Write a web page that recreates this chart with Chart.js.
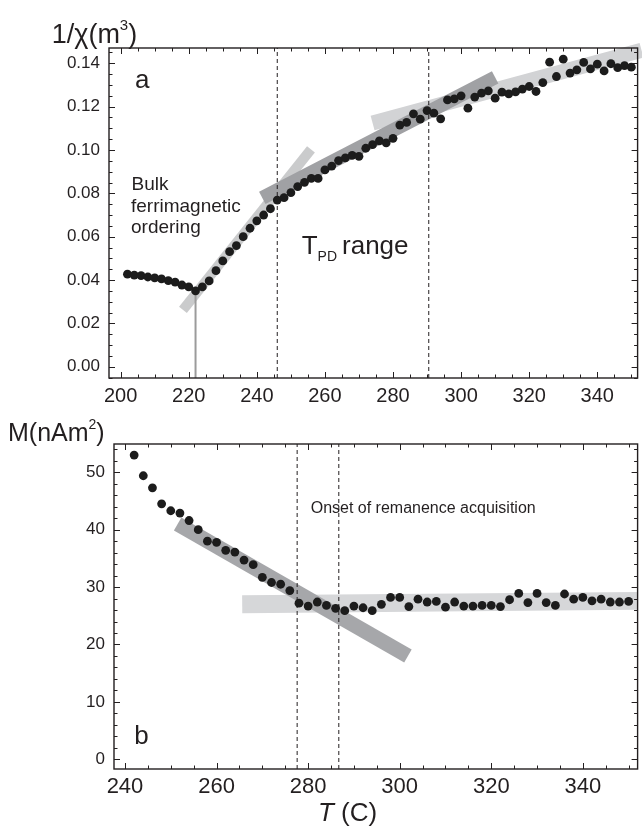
<!DOCTYPE html>
<html>
<head>
<meta charset="utf-8">
<script src="https://cdn.jsdelivr.net/npm/chart.js@4.4.1/dist/chart.umd.min.js"></script>
<style>
  html, body { margin: 0; padding: 0; background: #fff; }
  body { width: 642px; height: 827px; position: relative; overflow: hidden; }
  canvas { position: absolute; left: 0; }
  #chartA { top: 0; }
  #chartB { top: 415px; }
</style>
</head>
<body>
<canvas id="chartA" width="642" height="415"></canvas>
<canvas id="chartB" width="642" height="412"></canvas>
<script>
// ---------- Panel a: inverse susceptibility 1/chi versus temperature ----------
const tempA = [202, 204, 206, 208, 210, 212, 214, 216, 218, 220, 222, 224, 226, 228, 230,
  232, 234, 236, 238, 240, 242, 244, 246, 248, 250, 252, 254, 256, 258, 260,
  262, 264, 266, 268, 270, 272, 274, 276, 278, 280, 282, 284, 286, 288, 290,
  292, 294, 296, 298, 300, 302, 304, 306, 308, 310, 312, 314, 316, 318, 320,
  322, 324, 326, 328, 330, 332, 334, 336, 338, 340, 342, 344, 346, 348, 350];
const invChi = [0.0427, 0.0423, 0.0420, 0.0414, 0.0410, 0.0405, 0.0397, 0.0390, 0.0377, 0.0368,
  0.0350, 0.0368, 0.0396, 0.0443, 0.0488, 0.0531, 0.0559, 0.0600, 0.0639, 0.0673,
  0.0700, 0.0729, 0.0769, 0.0780, 0.0803, 0.0831, 0.0851, 0.0869, 0.0869, 0.0908,
  0.0926, 0.0951, 0.0964, 0.0975, 0.0971, 0.1008, 0.1025, 0.1042, 0.1033, 0.1054,
  0.1115, 0.1127, 0.1167, 0.1142, 0.1182, 0.1170, 0.1144, 0.1231, 0.1236, 0.1250,
  0.1193, 0.1244, 0.1262, 0.1273, 0.1239, 0.1267, 0.1259, 0.1268, 0.1281, 0.1293,
  0.1270, 0.1311, 0.1405, 0.1339, 0.1419, 0.1355, 0.1370, 0.1404, 0.1374, 0.1396,
  0.1365, 0.1398, 0.1380, 0.1389, 0.1382];

// straight-line fits drawn as broad grey bands
const fitSteepT = [218.3, 255.9];
const fitSteepV = [0.0262, 0.1003];
const fitMidT = [241.6, 310.0];
const fitMidV = [0.0779, 0.1335];
const fitHighT = [274.0, 353.0];
const fitHighV = [0.1125, 0.1460];

const curieT = 222;            // bulk ordering temperature (grey marker)
const tpdRangeA = [246, 290.5]; // dashed bounds of the T_PD range

const tempTicksA = [200, 220, 240, 260, 280, 300, 320, 340];
const invChiTicks = [0.00, 0.02, 0.04, 0.06, 0.08, 0.10, 0.12, 0.14];
const xLimA = [196.58, 351.84];
const yLimA = [-0.0052, 0.14706];

// ---------- Panel b: magnetisation versus temperature ----------
const tempB = [242, 244, 246, 248, 250, 252, 254, 256, 258, 260, 262, 264, 266, 268, 270,
  272, 274, 276, 278, 280, 282, 284, 286, 288, 290, 292, 294, 296, 298, 300,
  302, 304, 306, 308, 310, 312, 314, 316, 318, 320, 322, 324, 326, 328, 330,
  332, 334, 336, 338, 340, 342, 344, 346, 348, 350];
const momentB = [53.0, 49.4, 47.3, 44.5, 43.3, 42.9, 41.6, 40.0, 38.0, 37.8,
  36.4, 36.1, 34.7, 33.9, 31.7, 30.8, 30.5, 29.4, 27.2, 26.7,
  27.4, 26.8, 26.3, 25.9, 26.7, 26.4, 25.9, 27.0, 28.2, 28.2,
  26.6, 27.9, 27.4, 27.5, 26.5, 27.4, 26.7, 26.7, 26.8, 26.8,
  26.6, 27.8, 28.9, 27.3, 28.9, 27.3, 26.8, 28.8, 27.9, 28.2,
  27.6, 27.9, 27.4, 27.4, 27.5];

const fitDropT = [251.5, 301.8];
const fitDropM = [41.0, 18.0];
const fitFlatT = [265.6, 352.0];
const fitFlatM = [27.0, 27.6];

const onsetRangeB = [277.6, 286.7];

const tempTicksB = [240, 260, 280, 300, 320, 340];
const momentTicks = [0, 10, 20, 30, 40, 50];
const xLimB = [237.6, 351.96];
const yLimB = [-1.69, 54.93];

// ---------- shared helpers ----------
const INK = '#231f20';
const FONT = "'Liberation Sans', Arial, Helvetica, sans-serif";
Chart.defaults.font.family = FONT;
Chart.defaults.color = INK;

const pairs = (xs, ys) => xs.map((v, i) => ({ x: v, y: ys[i] }));

function band(xs, ys, color, width, order, clip) {
  return {
    data: pairs(xs, ys), showLine: true, pointRadius: 0, borderColor: color,
    borderWidth: width, borderCapStyle: 'butt', fill: false, order: order,
    clip: clip === false ? false : undefined
  };
}
function vline(t, lim, color, width, dash, order) {
  return {
    data: [{ x: t, y: lim[0] }, { x: t, y: lim[1] }], showLine: true, pointRadius: 0,
    borderColor: color, borderWidth: width, borderDash: dash || [], fill: false, order: order
  };
}

// Closed frame with inward major/minor ticks on all four sides
function frameTicks(xMajor, xMinor, yMajor, yMinor) {
  return {
    id: 'frameTicks',
    afterDatasetsDraw(chart) {
      const { ctx, chartArea: a, scales: { x, y } } = chart;
      ctx.save();
      ctx.strokeStyle = INK;
      ctx.lineWidth = 1;
      ctx.beginPath();
      const isMajor = (v, step) => Math.abs(v / step - Math.round(v / step)) < 1e-6;
      let k0 = Math.ceil(x.min / xMinor - 1e-9);
      for (let k = k0; k * xMinor <= x.max + 1e-9; k++) {
        const v = k * xMinor;
        const px = Math.round(x.getPixelForValue(v)) + 0.5;
        const len = isMajor(v, xMajor) ? 6 : 3.5;
        ctx.moveTo(px, a.bottom); ctx.lineTo(px, a.bottom - len);
        ctx.moveTo(px, a.top); ctx.lineTo(px, a.top + len);
      }
      k0 = Math.ceil(y.min / yMinor - 1e-9);
      for (let k = k0; k * yMinor <= y.max + 1e-9; k++) {
        const v = k * yMinor;
        const py = Math.round(y.getPixelForValue(v)) + 0.5;
        const len = isMajor(v, yMajor) ? 6 : 3.5;
        ctx.moveTo(a.left, py); ctx.lineTo(a.left + len, py);
        ctx.moveTo(a.right, py); ctx.lineTo(a.right - len, py);
      }
      ctx.stroke();
      ctx.lineWidth = 1.4;
      ctx.strokeRect(a.left, a.top, a.right - a.left, a.bottom - a.top);
      ctx.restore();
    }
  };
}

// Text pieces drawn as runs, so super/subscripts sit next to their base text
function textLayer(pieces) {
  return {
    id: 'textLayer',
    afterDraw(chart) {
      const ctx = chart.ctx;
      ctx.save();
      ctx.fillStyle = INK;
      ctx.textBaseline = 'alphabetic';
      ctx.textAlign = 'left';
      pieces.forEach(p => {
        let x = p.x;
        p.runs.forEach(r => {
          ctx.font = (r.italic ? 'italic ' : '') + r.size + 'px ' + FONT;
          ctx.fillText(r.text, x, p.y - (r.rise || 0));
          x += ctx.measureText(r.text).width + (r.gap || 0);
        });
      });
      ctx.restore();
    }
  };
}

function scaleConfig(lim, ticks, fixed, isX, fontSize, padding, fmt) {
  return {
    type: 'linear',
    position: isX ? 'bottom' : 'left',
    min: lim[0], max: lim[1],
    afterFit: s => { if (isX) s.height = fixed; else s.width = fixed; },
    afterBuildTicks: s => { s.ticks = ticks.map(v => ({ value: v })); },
    grid: { display: false, drawTicks: false },
    border: { display: false },
    ticks: {
      color: INK, font: { size: fontSize }, padding: padding,
      autoSkip: false, maxRotation: 0, minRotation: 0,
      callback: fmt
    }
  };
}

const baseOptions = {
  responsive: false, animation: false, devicePixelRatio: 1, events: [],
  plugins: { legend: { display: false }, tooltip: { enabled: false } }
};

// ---------- chart a ----------
new Chart(document.getElementById('chartA'), {
  type: 'scatter',
  data: {
    datasets: [
      { data: pairs(tempA, invChi), backgroundColor: '#1c1c1c', borderWidth: 0, pointRadius: 4.4, order: 0 },
      vline(tpdRangeA[0], yLimA, INK, 1, [4, 3], 1),
      vline(tpdRangeA[1], yLimA, INK, 1, [4, 3], 1),
      vline(curieT, [yLimA[0], invChi[tempA.indexOf(curieT)]], '#9b9b9b', 2, [], 1),
      band(fitMidT, fitMidV, '#a0a1a4', 14, 2),
      band(fitSteepT, fitSteepV, '#cacbcc', 10, 3),
      band(fitHighT, fitHighV, '#d2d3d5', 15, 3, false)
    ]
  },
  options: Object.assign({}, baseOptions, {
    layout: { padding: { top: 48, right: 2, left: 0, bottom: 0 } },
    scales: {
      x: scaleConfig(xLimA, tempTicksA, 37, true, 20, 6, v => String(v)),
      y: scaleConfig(yLimA, invChiTicks, 109, false, 17, 9, v => v.toFixed(2))
    }
  }),
  plugins: [
    frameTicks(20, 5, 0.02, 0.005),
    textLayer([
      { x: 51.7, y: 42.7, runs: [{ text: '1/\u03C7(m', size: 27 }, { text: '3', size: 15, rise: 13 }, { text: ')', size: 27 }] },
      { x: 135, y: 88.3, runs: [{ text: 'a', size: 26 }] },
      { x: 131.5, y: 190, runs: [{ text: 'Bulk', size: 19 }] },
      { x: 131, y: 211.7, runs: [{ text: 'ferrimagnetic', size: 19 }] },
      { x: 131, y: 233.3, runs: [{ text: 'ordering', size: 19 }] },
      { x: 301.7, y: 254, runs: [{ text: 'T', size: 26 }, { text: 'PD', size: 14, rise: -7, gap: 5 }, { text: 'range', size: 26 }] }
    ])
  ]
});

// ---------- chart b ----------
new Chart(document.getElementById('chartB'), {
  type: 'scatter',
  data: {
    datasets: [
      { data: pairs(tempB, momentB), backgroundColor: '#1c1c1c', borderWidth: 0, pointRadius: 4.4, order: 0 },
      vline(onsetRangeB[0], yLimB, INK, 1, [4, 3], 1),
      vline(onsetRangeB[1], yLimB, INK, 1, [4, 3], 1),
      band(fitDropT, fitDropM, '#a6a7aa', 15, 2),
      band(fitFlatT, fitFlatM, '#d6d7d9', 18, 3)
    ]
  },
  options: Object.assign({}, baseOptions, {
    layout: { padding: { top: 29, right: 2, left: 0, bottom: 0 } },
    scales: {
      x: scaleConfig(xLimB, tempTicksB, 58, true, 22, 5, v => String(v)),
      y: scaleConfig(yLimB, momentTicks, 114, false, 17, 9, v => String(v))
    }
  }),
  plugins: [
    frameTicks(20, 5, 10, 2),
    textLayer([
      { x: 8, y: 26, runs: [{ text: 'M(nAm', size: 25 }, { text: '2', size: 14, rise: 12 }, { text: ')', size: 25 }] },
      { x: 310.7, y: 98.3, runs: [{ text: 'Onset of remanence acquisition', size: 16 }] },
      { x: 134.3, y: 329.3, runs: [{ text: 'b', size: 26 }] },
      { x: 318, y: 406, runs: [{ text: 'T', size: 26, italic: true }, { text: ' (C)', size: 26 }] }
    ])
  ]
});
</script>
</body>
</html>
